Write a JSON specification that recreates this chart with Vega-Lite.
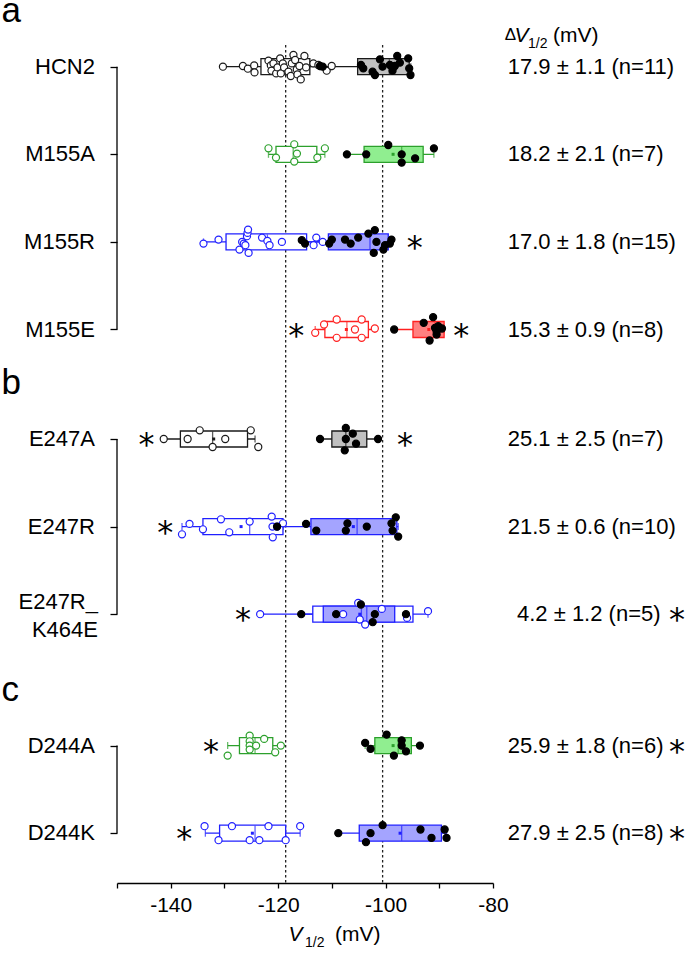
{
  "$schema": "https://vega.github.io/schema/vega-lite/v6.json",
  "width": 376,
  "height": 838,
  "autosize": "none",
  "padding": {"left": 117, "top": 45, "right": 192, "bottom": 70},
  "background": "white",
  "config": {"view": {"stroke": null}, "font": "Liberation Sans"},
  "resolve": {"axis": {"x": "independent", "y": "independent"}},
  "datasets": {
    "refs": [{"v": -118.6}, {"v": -100.55}],
    "brackets": [
      {"c": "HCN2", "c2": "M155E"},
      {"c": "E247A", "c2": "E247R_K464E"},
      {"c": "D244A", "c2": "D244K"}
    ],
    "rows": [
      {"c": "HCN2", "name": "HCN2", "dv": "17.9 ± 1.1 (n=11)", "sig": false, "multi": false},
      {"c": "M155A", "name": "M155A", "dv": "18.2 ± 2.1 (n=7)", "sig": false, "multi": false},
      {"c": "M155R", "name": "M155R", "dv": "17.0 ± 1.8 (n=15)", "sig": false, "multi": false},
      {"c": "M155E", "name": "M155E", "dv": "15.3 ± 0.9 (n=8)", "sig": false, "multi": false},
      {"c": "E247A", "name": "E247A", "dv": "25.1 ± 2.5 (n=7)", "sig": false, "multi": false},
      {"c": "E247R", "name": "E247R", "dv": "21.5 ± 0.6 (n=10)", "sig": false, "multi": false},
      {"c": "E247R_K464E", "name": "E247R_\nK464E", "dv": "4.2 ± 1.2 (n=5)", "sig": true, "multi": true},
      {"c": "D244A", "name": "D244A", "dv": "25.9 ± 1.8 (n=6)", "sig": true, "multi": false},
      {"c": "D244K", "name": "D244K", "dv": "27.9 ± 2.5 (n=8)", "sig": true, "multi": false}
    ],
    "panels": [
      {"c": "HCN2", "letter": "a"},
      {"c": "E247A", "letter": "b"},
      {"c": "D244A", "letter": "c"}
    ],
    "stars": [
      {"c": "M155R", "v": -94.55},
      {"c": "M155E", "v": -116.65},
      {"c": "M155E", "v": -85.9},
      {"c": "E247A", "v": -144.5},
      {"c": "E247A", "v": -96.4},
      {"c": "E247R", "v": -141.0},
      {"c": "E247R_K464E", "v": -126.55},
      {"c": "D244A", "v": -132.5},
      {"c": "D244K", "v": -137.5}
    ],
    "box": [
      {"c": "HCN2", "cond": "ctrl", "lo": -130.3, "q1": -123.2, "med": -119.0, "q3": -114.1, "hi": -110.0, "mean": -118.6},
      {"c": "M155A", "cond": "ctrl", "lo": -121.8, "q1": -120.4, "med": -117.2, "q3": -112.8, "hi": -111.3, "mean": null},
      {"c": "M155R", "cond": "ctrl", "lo": -133.9, "q1": -129.7, "med": -122.0, "q3": -114.7, "hi": -111.7, "mean": null},
      {"c": "M155E", "cond": "ctrl", "lo": -113.1, "q1": -111.3, "med": -107.2, "q3": -103.2, "hi": -102.0, "mean": -107.3},
      {"c": "E247A", "cond": "ctrl", "lo": -141.3, "q1": -138.2, "med": -132.2, "q3": -125.7, "hi": -124.3, "mean": -132.0},
      {"c": "E247R", "cond": "ctrl", "lo": -137.9, "q1": -134.0, "med": -125.3, "q3": -119.1, "hi": -119.1, "mean": -126.9},
      {"c": "E247R_K464E", "cond": "ctrl", "lo": -123.35, "q1": -113.55, "med": -104.5, "q3": -94.9, "hi": -92.1, "mean": -104.8},
      {"c": "D244A", "cond": "ctrl", "lo": -129.4, "q1": -127.2, "med": -124.3, "q3": -121.0, "hi": -119.5, "mean": -124.2},
      {"c": "D244K", "cond": "ctrl", "lo": -133.55, "q1": -130.9, "med": -124.3, "q3": -118.6, "hi": -115.9, "mean": -124.8},
      {"c": "HCN2", "cond": "cAMP", "lo": -112.2, "q1": -105.2, "med": -99.3, "q3": -95.6, "hi": -95.3, "mean": -100.6},
      {"c": "M155A", "cond": "cAMP", "lo": -107.2, "q1": -104.0, "med": -97.0, "q3": -93.0, "hi": -91.0, "mean": -98.6},
      {"c": "M155R", "cond": "cAMP", "lo": -115.6, "q1": -110.65, "med": -102.9, "q3": -99.5, "hi": -98.9, "mean": null},
      {"c": "M155E", "cond": "cAMP", "lo": -98.4, "q1": -94.9, "med": -90.8, "q3": -89.1, "hi": -89.1, "mean": -91.95},
      {"c": "E247A", "cond": "cAMP", "lo": -112.2, "q1": -110.0, "med": -107.4, "q3": -103.5, "hi": -101.4, "mean": null},
      {"c": "E247R", "cond": "cAMP", "lo": -120.2, "q1": -113.9, "med": -105.3, "q3": -97.9, "hi": -97.65, "mean": -106.0},
      {"c": "E247R_K464E", "cond": "cAMP", "lo": -115.7, "q1": -111.6, "med": -103.5, "q3": -98.3, "hi": -96.2, "mean": null},
      {"c": "D244A", "cond": "cAMP", "lo": -103.8, "q1": -102.0, "med": -97.65, "q3": -95.2, "hi": -93.6, "mean": -98.6},
      {"c": "D244K", "cond": "cAMP", "lo": -108.8, "q1": -104.9, "med": -97.0, "q3": -89.6, "hi": -88.65, "mean": -97.3}
    ],
    "pts": [
      {"c": "HCN2", "cond": "ctrl", "v": -130.28, "jy": 0},
      {"c": "HCN2", "cond": "ctrl", "v": -126.56, "jy": -0.7},
      {"c": "HCN2", "cond": "ctrl", "v": -125.64, "jy": 2},
      {"c": "HCN2", "cond": "ctrl", "v": -124.46, "jy": -1.3},
      {"c": "HCN2", "cond": "ctrl", "v": -124.4, "jy": 5.7},
      {"c": "HCN2", "cond": "ctrl", "v": -121.8, "jy": -6},
      {"c": "HCN2", "cond": "ctrl", "v": -121.36, "jy": -1.3},
      {"c": "HCN2", "cond": "ctrl", "v": -121.24, "jy": 4},
      {"c": "HCN2", "cond": "ctrl", "v": -120.87, "jy": -3.3},
      {"c": "HCN2", "cond": "ctrl", "v": -120.37, "jy": 6.7},
      {"c": "HCN2", "cond": "ctrl", "v": -120.12, "jy": 0.7},
      {"c": "HCN2", "cond": "ctrl", "v": -119.63, "jy": -8.3},
      {"c": "HCN2", "cond": "ctrl", "v": -119.5, "jy": 6.7},
      {"c": "HCN2", "cond": "ctrl", "v": -119.13, "jy": -3.3},
      {"c": "HCN2", "cond": "ctrl", "v": -118.89, "jy": 0.7},
      {"c": "HCN2", "cond": "ctrl", "v": -118.08, "jy": 5},
      {"c": "HCN2", "cond": "ctrl", "v": -117.65, "jy": 9.3},
      {"c": "HCN2", "cond": "ctrl", "v": -117.46, "jy": -3.3},
      {"c": "HCN2", "cond": "ctrl", "v": -117.15, "jy": -11.7},
      {"c": "HCN2", "cond": "ctrl", "v": -116.84, "jy": -6.7},
      {"c": "HCN2", "cond": "ctrl", "v": -116.53, "jy": 2.7},
      {"c": "HCN2", "cond": "ctrl", "v": -116.41, "jy": 7.7},
      {"c": "HCN2", "cond": "ctrl", "v": -116.04, "jy": -0.7},
      {"c": "HCN2", "cond": "ctrl", "v": -115.79, "jy": 12.7},
      {"c": "HCN2", "cond": "ctrl", "v": -115.11, "jy": -10.7},
      {"c": "HCN2", "cond": "ctrl", "v": -114.8, "jy": 0.7},
      {"c": "HCN2", "cond": "ctrl", "v": -113.44, "jy": -3.3},
      {"c": "HCN2", "cond": "ctrl", "v": -112.51, "jy": -1.7},
      {"c": "HCN2", "cond": "ctrl", "v": -110.96, "jy": 4},
      {"c": "HCN2", "cond": "ctrl", "v": -110.03, "jy": -0.7},
      {"c": "M155A", "cond": "ctrl", "v": -121.8, "jy": -6},
      {"c": "M155A", "cond": "ctrl", "v": -120.4, "jy": 3.3},
      {"c": "M155A", "cond": "ctrl", "v": -117.0, "jy": -10},
      {"c": "M155A", "cond": "ctrl", "v": -116.5, "jy": -0.7},
      {"c": "M155A", "cond": "ctrl", "v": -117.0, "jy": 7.3},
      {"c": "M155A", "cond": "ctrl", "v": -112.7, "jy": 3.3},
      {"c": "M155A", "cond": "ctrl", "v": -111.3, "jy": -6},
      {"c": "M155R", "cond": "ctrl", "v": -133.9, "jy": 1.7},
      {"c": "M155R", "cond": "ctrl", "v": -131.1, "jy": -2.3},
      {"c": "M155R", "cond": "ctrl", "v": -127.2, "jy": 7.7},
      {"c": "M155R", "cond": "ctrl", "v": -126.7, "jy": 0},
      {"c": "M155R", "cond": "ctrl", "v": -126.4, "jy": 1.7},
      {"c": "M155R", "cond": "ctrl", "v": -126.1, "jy": 3.3},
      {"c": "M155R", "cond": "ctrl", "v": -125.8, "jy": -5.7},
      {"c": "M155R", "cond": "ctrl", "v": -125.7, "jy": -9},
      {"c": "M155R", "cond": "ctrl", "v": -125.6, "jy": -12.3},
      {"c": "M155R", "cond": "ctrl", "v": -125.5, "jy": 11},
      {"c": "M155R", "cond": "ctrl", "v": -123.0, "jy": -4.3},
      {"c": "M155R", "cond": "ctrl", "v": -122.0, "jy": -1},
      {"c": "M155R", "cond": "ctrl", "v": -121.6, "jy": 3.3},
      {"c": "M155R", "cond": "ctrl", "v": -119.3, "jy": 0},
      {"c": "M155R", "cond": "ctrl", "v": -113.4, "jy": 3.3},
      {"c": "M155R", "cond": "ctrl", "v": -112.9, "jy": -4.3},
      {"c": "M155R", "cond": "ctrl", "v": -111.7, "jy": 0},
      {"c": "M155E", "cond": "ctrl", "v": -113.1, "jy": 3.3},
      {"c": "M155E", "cond": "ctrl", "v": -111.45, "jy": -5},
      {"c": "M155E", "cond": "ctrl", "v": -109.1, "jy": -10},
      {"c": "M155E", "cond": "ctrl", "v": -109.1, "jy": 8.3},
      {"c": "M155E", "cond": "ctrl", "v": -105.7, "jy": 0},
      {"c": "M155E", "cond": "ctrl", "v": -104.45, "jy": -10},
      {"c": "M155E", "cond": "ctrl", "v": -104.45, "jy": 8.3},
      {"c": "M155E", "cond": "ctrl", "v": -102.0, "jy": -1},
      {"c": "E247A", "cond": "ctrl", "v": -141.3, "jy": 0},
      {"c": "E247A", "cond": "ctrl", "v": -136.85, "jy": 0},
      {"c": "E247A", "cond": "ctrl", "v": -134.6, "jy": -8.7},
      {"c": "E247A", "cond": "ctrl", "v": -132.2, "jy": 8},
      {"c": "E247A", "cond": "ctrl", "v": -129.85, "jy": 0},
      {"c": "E247A", "cond": "ctrl", "v": -125.1, "jy": -8.7},
      {"c": "E247A", "cond": "ctrl", "v": -123.7, "jy": 8},
      {"c": "E247R", "cond": "ctrl", "v": -137.9, "jy": 7.7},
      {"c": "E247R", "cond": "ctrl", "v": -136.5, "jy": -2.7},
      {"c": "E247R", "cond": "ctrl", "v": -134.0, "jy": 2.7},
      {"c": "E247R", "cond": "ctrl", "v": -130.65, "jy": -7.3},
      {"c": "E247R", "cond": "ctrl", "v": -129.1, "jy": 5.7},
      {"c": "E247R", "cond": "ctrl", "v": -125.3, "jy": -5},
      {"c": "E247R", "cond": "ctrl", "v": -121.2, "jy": -10},
      {"c": "E247R", "cond": "ctrl", "v": -121.05, "jy": 0},
      {"c": "E247R", "cond": "ctrl", "v": -121.0, "jy": 10.7},
      {"c": "E247R", "cond": "ctrl", "v": -120.2, "jy": 0},
      {"c": "E247R", "cond": "ctrl", "v": -119.1, "jy": -3.3},
      {"c": "E247R_K464E", "cond": "ctrl", "v": -123.35, "jy": 0},
      {"c": "E247R_K464E", "cond": "ctrl", "v": -107.9, "jy": 0},
      {"c": "E247R_K464E", "cond": "ctrl", "v": -105.1, "jy": -11.3},
      {"c": "E247R_K464E", "cond": "ctrl", "v": -104.8, "jy": 5.3},
      {"c": "E247R_K464E", "cond": "ctrl", "v": -103.8, "jy": 10.3},
      {"c": "E247R_K464E", "cond": "ctrl", "v": -100.7, "jy": -5.3},
      {"c": "E247R_K464E", "cond": "ctrl", "v": -96.0, "jy": 3.7},
      {"c": "E247R_K464E", "cond": "ctrl", "v": -92.1, "jy": -3},
      {"c": "D244A", "cond": "ctrl", "v": -129.4, "jy": 10},
      {"c": "D244A", "cond": "ctrl", "v": -125.3, "jy": -10},
      {"c": "D244A", "cond": "ctrl", "v": -125.3, "jy": -4.3},
      {"c": "D244A", "cond": "ctrl", "v": -125.3, "jy": 0},
      {"c": "D244A", "cond": "ctrl", "v": -125.3, "jy": 4},
      {"c": "D244A", "cond": "ctrl", "v": -124.1, "jy": 0},
      {"c": "D244A", "cond": "ctrl", "v": -122.6, "jy": -6.7},
      {"c": "D244A", "cond": "ctrl", "v": -120.55, "jy": 6.7},
      {"c": "D244A", "cond": "ctrl", "v": -119.5, "jy": 0},
      {"c": "D244K", "cond": "ctrl", "v": -133.7, "jy": -7},
      {"c": "D244K", "cond": "ctrl", "v": -131.1, "jy": 7},
      {"c": "D244K", "cond": "ctrl", "v": -128.6, "jy": -7},
      {"c": "D244K", "cond": "ctrl", "v": -125.3, "jy": 7},
      {"c": "D244K", "cond": "ctrl", "v": -123.5, "jy": 7},
      {"c": "D244K", "cond": "ctrl", "v": -121.8, "jy": -7},
      {"c": "D244K", "cond": "ctrl", "v": -118.6, "jy": 7},
      {"c": "D244K", "cond": "ctrl", "v": -115.9, "jy": -7},
      {"c": "HCN2", "cond": "cAMP", "v": -112.2, "jy": -0.7},
      {"c": "HCN2", "cond": "cAMP", "v": -111.7, "jy": 0},
      {"c": "HCN2", "cond": "cAMP", "v": -104.58, "jy": -1.7},
      {"c": "HCN2", "cond": "cAMP", "v": -104.15, "jy": 1.7},
      {"c": "HCN2", "cond": "cAMP", "v": -102.42, "jy": 5},
      {"c": "HCN2", "cond": "cAMP", "v": -101.98, "jy": 8.3},
      {"c": "HCN2", "cond": "cAMP", "v": -101.05, "jy": -7.3},
      {"c": "HCN2", "cond": "cAMP", "v": -100.56, "jy": 0},
      {"c": "HCN2", "cond": "cAMP", "v": -99.2, "jy": -1.7},
      {"c": "HCN2", "cond": "cAMP", "v": -98.7, "jy": 4},
      {"c": "HCN2", "cond": "cAMP", "v": -98.27, "jy": -0.7},
      {"c": "HCN2", "cond": "cAMP", "v": -97.83, "jy": -10.7},
      {"c": "HCN2", "cond": "cAMP", "v": -97.34, "jy": -4},
      {"c": "HCN2", "cond": "cAMP", "v": -95.79, "jy": -8.3},
      {"c": "HCN2", "cond": "cAMP", "v": -95.36, "jy": 8.3},
      {"c": "HCN2", "cond": "cAMP", "v": -95.6, "jy": 1.7},
      {"c": "M155A", "cond": "cAMP", "v": -107.2, "jy": 0},
      {"c": "M155A", "cond": "cAMP", "v": -103.6, "jy": 0},
      {"c": "M155A", "cond": "cAMP", "v": -99.5, "jy": -9.3},
      {"c": "M155A", "cond": "cAMP", "v": -97.0, "jy": 0},
      {"c": "M155A", "cond": "cAMP", "v": -97.0, "jy": 8.3},
      {"c": "M155A", "cond": "cAMP", "v": -94.5, "jy": 4},
      {"c": "M155A", "cond": "cAMP", "v": -91.0, "jy": -6},
      {"c": "M155R", "cond": "cAMP", "v": -115.6, "jy": -1.7},
      {"c": "M155R", "cond": "cAMP", "v": -115.0, "jy": 1.7},
      {"c": "M155R", "cond": "cAMP", "v": -110.5, "jy": 1.7},
      {"c": "M155R", "cond": "cAMP", "v": -110.0, "jy": -2.3},
      {"c": "M155R", "cond": "cAMP", "v": -107.55, "jy": -2.3},
      {"c": "M155R", "cond": "cAMP", "v": -106.5, "jy": 1.7},
      {"c": "M155R", "cond": "cAMP", "v": -105.1, "jy": -4.3},
      {"c": "M155R", "cond": "cAMP", "v": -103.2, "jy": -8.3},
      {"c": "M155R", "cond": "cAMP", "v": -102.0, "jy": -11.7},
      {"c": "M155R", "cond": "cAMP", "v": -101.7, "jy": 0},
      {"c": "M155R", "cond": "cAMP", "v": -102.2, "jy": 11},
      {"c": "M155R", "cond": "cAMP", "v": -100.4, "jy": 7.7},
      {"c": "M155R", "cond": "cAMP", "v": -100.1, "jy": 3.3},
      {"c": "M155R", "cond": "cAMP", "v": -99.2, "jy": 1.7},
      {"c": "M155R", "cond": "cAMP", "v": -98.9, "jy": -2.3},
      {"c": "M155E", "cond": "cAMP", "v": -98.4, "jy": 0},
      {"c": "M155E", "cond": "cAMP", "v": -92.9, "jy": -6.7},
      {"c": "M155E", "cond": "cAMP", "v": -91.15, "jy": -12.3},
      {"c": "M155E", "cond": "cAMP", "v": -90.8, "jy": -1.7},
      {"c": "M155E", "cond": "cAMP", "v": -90.5, "jy": 1.7},
      {"c": "M155E", "cond": "cAMP", "v": -90.5, "jy": 5},
      {"c": "M155E", "cond": "cAMP", "v": -89.5, "jy": -1},
      {"c": "M155E", "cond": "cAMP", "v": -91.8, "jy": 11},
      {"c": "M155E", "cond": "cAMP", "v": -90.2, "jy": -3.3},
      {"c": "E247A", "cond": "cAMP", "v": -112.2, "jy": 0},
      {"c": "E247A", "cond": "cAMP", "v": -107.4, "jy": -11},
      {"c": "E247A", "cond": "cAMP", "v": -107.4, "jy": 0},
      {"c": "E247A", "cond": "cAMP", "v": -107.6, "jy": 11.3},
      {"c": "E247A", "cond": "cAMP", "v": -106.1, "jy": -5.3},
      {"c": "E247A", "cond": "cAMP", "v": -105.5, "jy": 4.7},
      {"c": "E247A", "cond": "cAMP", "v": -101.4, "jy": 0},
      {"c": "E247R", "cond": "cAMP", "v": -120.2, "jy": 0},
      {"c": "E247R", "cond": "cAMP", "v": -114.8, "jy": -2.7},
      {"c": "E247R", "cond": "cAMP", "v": -112.9, "jy": 4},
      {"c": "E247R", "cond": "cAMP", "v": -107.4, "jy": 4},
      {"c": "E247R", "cond": "cAMP", "v": -107.1, "jy": -3.3},
      {"c": "E247R", "cond": "cAMP", "v": -103.5, "jy": 0},
      {"c": "E247R", "cond": "cAMP", "v": -98.9, "jy": -3.3},
      {"c": "E247R", "cond": "cAMP", "v": -98.7, "jy": 4},
      {"c": "E247R", "cond": "cAMP", "v": -98.1, "jy": -9.3},
      {"c": "E247R", "cond": "cAMP", "v": -97.65, "jy": 10},
      {"c": "E247R_K464E", "cond": "cAMP", "v": -115.7, "jy": 0},
      {"c": "E247R_K464E", "cond": "cAMP", "v": -109.2, "jy": 0},
      {"c": "E247R_K464E", "cond": "cAMP", "v": -104.6, "jy": -9.7},
      {"c": "E247R_K464E", "cond": "cAMP", "v": -102.0, "jy": 0},
      {"c": "E247R_K464E", "cond": "cAMP", "v": -102.4, "jy": 8},
      {"c": "E247R_K464E", "cond": "cAMP", "v": -96.2, "jy": 0},
      {"c": "D244A", "cond": "cAMP", "v": -103.8, "jy": -2.7},
      {"c": "D244A", "cond": "cAMP", "v": -102.8, "jy": 3.3},
      {"c": "D244A", "cond": "cAMP", "v": -99.8, "jy": -11},
      {"c": "D244A", "cond": "cAMP", "v": -98.45, "jy": 10},
      {"c": "D244A", "cond": "cAMP", "v": -97.0, "jy": -5.3},
      {"c": "D244A", "cond": "cAMP", "v": -97.0, "jy": 0},
      {"c": "D244A", "cond": "cAMP", "v": -96.2, "jy": 5.7},
      {"c": "D244A", "cond": "cAMP", "v": -93.6, "jy": 0},
      {"c": "D244K", "cond": "cAMP", "v": -108.8, "jy": 0},
      {"c": "D244K", "cond": "cAMP", "v": -102.8, "jy": 0},
      {"c": "D244K", "cond": "cAMP", "v": -100.55, "jy": -8},
      {"c": "D244K", "cond": "cAMP", "v": -103.65, "jy": 9},
      {"c": "D244K", "cond": "cAMP", "v": -93.5, "jy": -3.7},
      {"c": "D244K", "cond": "cAMP", "v": -91.45, "jy": 4.7},
      {"c": "D244K", "cond": "cAMP", "v": -89.0, "jy": -3.7},
      {"c": "D244K", "cond": "cAMP", "v": -88.65, "jy": 4.7}
    ]
  },
  "layer": [
    {
      "data": {"name": "refs"},
      "mark": {"type": "rule", "strokeDash": [2.5, 2.5], "strokeWidth": 1.3, "color": "#222222"},
      "encoding": {
        "x": {"field": "v", "type": "quantitative", "scale": {"domain": [-150, -80], "nice": false, "zero": false},
          "axis": {"orient": "bottom", "values": [-150, -140, -130, -120, -110, -100, -90, -80], "labelExpr": "datum.value % 20 === 0 ? '-' + abs(datum.value) : ''", "title": null, "grid": false, "tickSize": 5, "tickWidth": 1.3, "tickColor": "black", "domainColor": "black", "domainWidth": 1.3, "labelFontSize": 21, "labelFont": "Liberation Sans", "labelColor": "black", "labelPadding": 6, "labelFlush": false, "labelOverlap": false}}
      }
    },
    {
      "data": {"name": "brackets"},
      "mark": {"type": "rule", "strokeWidth": 1.3, "color": "black"},
      "encoding": {
        "x": {"datum": -150, "type": "quantitative", "scale": {"domain": [-150, -80], "nice": false, "zero": false}, "axis": null},
        "y": {"field": "c", "type": "nominal", "axis": null},
        "y2": {"field": "c2"}
      }
    },
    {
      "data": {"name": "box"},
      "mark": {"type": "rule", "strokeWidth": 1.3},
      "encoding": {
        "x": {"field": "lo", "type": "quantitative", "scale": {"domain": [-150, -80], "nice": false, "zero": false}, "axis": null},
        "x2": {"field": "hi"},
        "y": {"field": "c", "type": "nominal", "axis": null},
        "stroke": {"field": "c", "type": "nominal", "legend": null, "scale": {"domain": ["HCN2","M155A","M155R","M155E","E247A","E247R","E247R_K464E","D244A","D244K"], "range": ["#1a1a1a","#2ca02c","#2020ff","#ff2020","#1a1a1a","#2020ff","#2020ff","#2ca02c","#2020ff"]}}
      }
    },
    {
      "data": {"name": "box"},
      "mark": {"type": "tick", "size": 7, "thickness": 1.3, "orient": "vertical"},
      "encoding": {
        "x": {"field": "lo", "type": "quantitative", "scale": {"domain": [-150, -80], "nice": false, "zero": false}, "axis": null},
        "y": {"field": "c", "type": "nominal", "axis": null},
        "color": {"field": "c", "type": "nominal", "legend": null, "scale": {"domain": ["HCN2","M155A","M155R","M155E","E247A","E247R","E247R_K464E","D244A","D244K"], "range": ["#1a1a1a","#2ca02c","#2020ff","#ff2020","#1a1a1a","#2020ff","#2020ff","#2ca02c","#2020ff"]}}
      }
    },
    {
      "data": {"name": "box"},
      "mark": {"type": "tick", "size": 7, "thickness": 1.3, "orient": "vertical"},
      "encoding": {
        "x": {"field": "hi", "type": "quantitative", "scale": {"domain": [-150, -80], "nice": false, "zero": false}, "axis": null},
        "y": {"field": "c", "type": "nominal", "axis": null},
        "color": {"field": "c", "type": "nominal", "legend": null}
      }
    },
    {
      "data": {"name": "box"},
      "mark": {"type": "bar", "size": 16, "strokeWidth": 1.3, "opacity": 1},
      "encoding": {
        "x": {"field": "q1", "type": "quantitative", "scale": {"domain": [-150, -80], "nice": false, "zero": false}, "axis": null},
        "x2": {"field": "q3"},
        "y": {"field": "c", "type": "nominal",
          "scale": {"type": "point", "domain": ["HCN2","s1","s2","s3","M155A","s5","s6","s7","M155R","s9","s10","s11","M155E","s13","s14","s15","s16","E247A","s18","s19","s20","E247R","s22","s23","s24","E247R_K464E","s26","s27","s28","s29","s30","D244A","s32","s33","s34","D244K"], "range": [21.7, 788.2], "padding": 0},
          "axis": {"orient": "left", "values": ["HCN2","M155A","M155R","M155E","E247A","E247R","E247R_K464E","D244A","D244K"], "labels": false, "domain": false, "ticks": true, "tickSize": 7, "tickColor": "black", "tickWidth": 1.3, "title": null, "grid": false}},
        "stroke": {"field": "c", "type": "nominal", "legend": null},
        "fill": {"condition": {"test": "datum.cond === 'ctrl'", "value": "white"}, "field": "c", "type": "nominal", "legend": null, "scale": {"domain": ["HCN2","M155A","M155R","M155E","E247A","E247R","E247R_K464E","D244A","D244K"], "range": ["#c0c0c0","#90ee90","#a4a4ff","#ff8080","#c0c0c0","#a4a4ff","#a4a4ff","#90ee90","#a4a4ff"]}}
      }
    },
    {
      "data": {"name": "box"},
      "mark": {"type": "tick", "size": 15, "thickness": 1.3, "orient": "vertical"},
      "encoding": {
        "x": {"field": "med", "type": "quantitative", "scale": {"domain": [-150, -80], "nice": false, "zero": false}, "axis": null},
        "y": {"field": "c", "type": "nominal", "axis": null},
        "color": {"field": "c", "type": "nominal", "legend": null}
      }
    },
    {
      "data": {"name": "box"},
      "transform": [{"filter": "isValid(datum.mean)"}],
      "mark": {"type": "point", "shape": "square", "size": 9, "filled": true, "opacity": 1},
      "encoding": {
        "x": {"field": "mean", "type": "quantitative", "scale": {"domain": [-150, -80], "nice": false, "zero": false}, "axis": null},
        "y": {"field": "c", "type": "nominal", "axis": null},
        "color": {"field": "c", "type": "nominal", "legend": null}
      }
    },
    {
      "data": {"name": "pts"},
      "mark": {"type": "point", "shape": "circle", "size": 50, "strokeWidth": 1.2, "filled": true, "opacity": 1},
      "encoding": {
        "x": {"field": "v", "type": "quantitative", "scale": {"domain": [-150, -80], "nice": false, "zero": false}, "axis": null},
        "y": {"field": "c", "type": "nominal", "axis": null},
        "yOffset": {"field": "jy", "type": "quantitative", "scale": null},
        "fill": {"condition": {"test": "datum.cond === 'cAMP'", "value": "black"}, "value": "white"},
        "stroke": {"condition": {"test": "datum.cond === 'cAMP'", "value": "black"}, "field": "c", "type": "nominal", "legend": null}
      }
    },
    {
      "data": {"name": "stars"},
      "mark": {"type": "text", "text": "*", "font": "DejaVu Sans", "fontSize": 32, "align": "center", "baseline": "alphabetic", "dy": 16, "color": "black"},
      "encoding": {
        "x": {"field": "v", "type": "quantitative", "scale": {"domain": [-150, -80], "nice": false, "zero": false}, "axis": null},
        "y": {"field": "c", "type": "nominal", "axis": null}
      }
    },
    {
      "data": {"name": "rows"},
      "transform": [{"filter": "datum.sig"}],
      "mark": {"type": "text", "text": "*", "font": "DejaVu Sans", "fontSize": 32, "align": "center", "baseline": "alphabetic", "dx": 184, "dy": 16, "color": "black"},
      "encoding": {
        "x": {"datum": -80, "type": "quantitative", "scale": {"domain": [-150, -80], "nice": false, "zero": false}, "axis": null},
        "y": {"field": "c", "type": "nominal", "axis": null}
      }
    },
    {
      "data": {"name": "rows"},
      "transform": [{"filter": "!datum.multi"}],
      "mark": {"type": "text", "fontSize": 22, "align": "right", "baseline": "middle", "dx": -22, "color": "black"},
      "encoding": {
        "x": {"datum": -150, "type": "quantitative", "scale": {"domain": [-150, -80], "nice": false, "zero": false}, "axis": null},
        "y": {"field": "c", "type": "nominal", "axis": null},
        "text": {"field": "name"}
      }
    },
    {
      "data": {"name": "rows"},
      "transform": [{"filter": "datum.multi"}],
      "mark": {"type": "text", "fontSize": 22, "align": "right", "baseline": "middle", "dx": -19, "dy": -12, "lineBreak": "\n", "lineHeight": 28, "color": "black"},
      "encoding": {
        "x": {"datum": -150, "type": "quantitative", "scale": {"domain": [-150, -80], "nice": false, "zero": false}, "axis": null},
        "y": {"field": "c", "type": "nominal", "axis": null},
        "text": {"field": "name"}
      }
    },
    {
      "data": {"name": "rows"},
      "transform": [{"filter": "datum.c !== 'E247R_K464E'"}],
      "mark": {"type": "text", "fontSize": 22, "align": "left", "baseline": "middle", "dx": 14.7, "color": "black"},
      "encoding": {
        "x": {"datum": -80, "type": "quantitative", "scale": {"domain": [-150, -80], "nice": false, "zero": false}, "axis": null},
        "y": {"field": "c", "type": "nominal", "axis": null},
        "text": {"field": "dv"}
      }
    },
    {
      "data": {"name": "rows"},
      "transform": [{"filter": "datum.c === 'E247R_K464E'"}],
      "mark": {"type": "text", "fontSize": 22, "align": "left", "baseline": "middle", "dx": 24, "color": "black"},
      "encoding": {
        "x": {"datum": -80, "type": "quantitative", "scale": {"domain": [-150, -80], "nice": false, "zero": false}, "axis": null},
        "y": {"field": "c", "type": "nominal", "axis": null},
        "text": {"field": "dv"}
      }
    },
    {
      "data": {"name": "panels"},
      "mark": {"type": "text", "fontSize": 35, "align": "left", "baseline": "alphabetic", "dx": -115.5, "dy": -45, "color": "black"},
      "encoding": {
        "x": {"datum": -150, "type": "quantitative", "scale": {"domain": [-150, -80], "nice": false, "zero": false}, "axis": null},
        "y": {"field": "c", "type": "nominal", "axis": null},
        "text": {"field": "letter"}
      }
    },
    {
      "data": {"values": [{"t": "Δ"}]},
      "mark": {"type": "text", "fontSize": 17, "align": "left", "baseline": "alphabetic", "dx": 11.7, "dy": -26.7, "color": "black"},
      "encoding": {
        "x": {"datum": -80, "type": "quantitative", "scale": {"domain": [-150, -80], "nice": false, "zero": false}, "axis": null},
        "y": {"datum": "HCN2", "type": "nominal", "axis": null},
        "text": {"field": "t"}
      }
    },
    {
      "data": {"values": [{"t": "V"}]},
      "mark": {"type": "text", "fontSize": 21, "fontStyle": "italic", "align": "left", "baseline": "alphabetic", "dx": 21.5, "dy": -25, "color": "black"},
      "encoding": {
        "x": {"datum": -80, "type": "quantitative", "scale": {"domain": [-150, -80], "nice": false, "zero": false}, "axis": null},
        "y": {"datum": "HCN2", "type": "nominal", "axis": null},
        "text": {"field": "t"}
      }
    },
    {
      "data": {"values": [{"t": "1/2"}]},
      "mark": {"type": "text", "fontSize": 14, "align": "left", "baseline": "alphabetic", "dx": 35, "dy": -19, "color": "black"},
      "encoding": {
        "x": {"datum": -80, "type": "quantitative", "scale": {"domain": [-150, -80], "nice": false, "zero": false}, "axis": null},
        "y": {"datum": "HCN2", "type": "nominal", "axis": null},
        "text": {"field": "t"}
      }
    },
    {
      "data": {"values": [{"t": "(mV)"}]},
      "mark": {"type": "text", "fontSize": 21, "align": "left", "baseline": "alphabetic", "dx": 60, "dy": -25, "color": "black"},
      "encoding": {
        "x": {"datum": -80, "type": "quantitative", "scale": {"domain": [-150, -80], "nice": false, "zero": false}, "axis": null},
        "y": {"datum": "HCN2", "type": "nominal", "axis": null},
        "text": {"field": "t"}
      }
    },
    {
      "data": {"values": [{"t": "V"}]},
      "mark": {"type": "text", "fontSize": 21, "fontStyle": "italic", "align": "left", "baseline": "alphabetic", "dx": -16.6, "dy": 107.5, "color": "black"},
      "encoding": {
        "x": {"datum": -115, "type": "quantitative", "scale": {"domain": [-150, -80], "nice": false, "zero": false}, "axis": null},
        "y": {"datum": "D244K", "type": "nominal", "axis": null},
        "text": {"field": "t"}
      }
    },
    {
      "data": {"values": [{"t": "1/2"}]},
      "mark": {"type": "text", "fontSize": 14, "align": "left", "baseline": "alphabetic", "dx": 0, "dy": 113.5, "color": "black"},
      "encoding": {
        "x": {"datum": -115, "type": "quantitative", "scale": {"domain": [-150, -80], "nice": false, "zero": false}, "axis": null},
        "y": {"datum": "D244K", "type": "nominal", "axis": null},
        "text": {"field": "t"}
      }
    },
    {
      "data": {"values": [{"t": "(mV)"}]},
      "mark": {"type": "text", "fontSize": 21, "align": "left", "baseline": "alphabetic", "dx": 30, "dy": 107.5, "color": "black"},
      "encoding": {
        "x": {"datum": -115, "type": "quantitative", "scale": {"domain": [-150, -80], "nice": false, "zero": false}, "axis": null},
        "y": {"datum": "D244K", "type": "nominal", "axis": null},
        "text": {"field": "t"}
      }
    }
  ]
}
